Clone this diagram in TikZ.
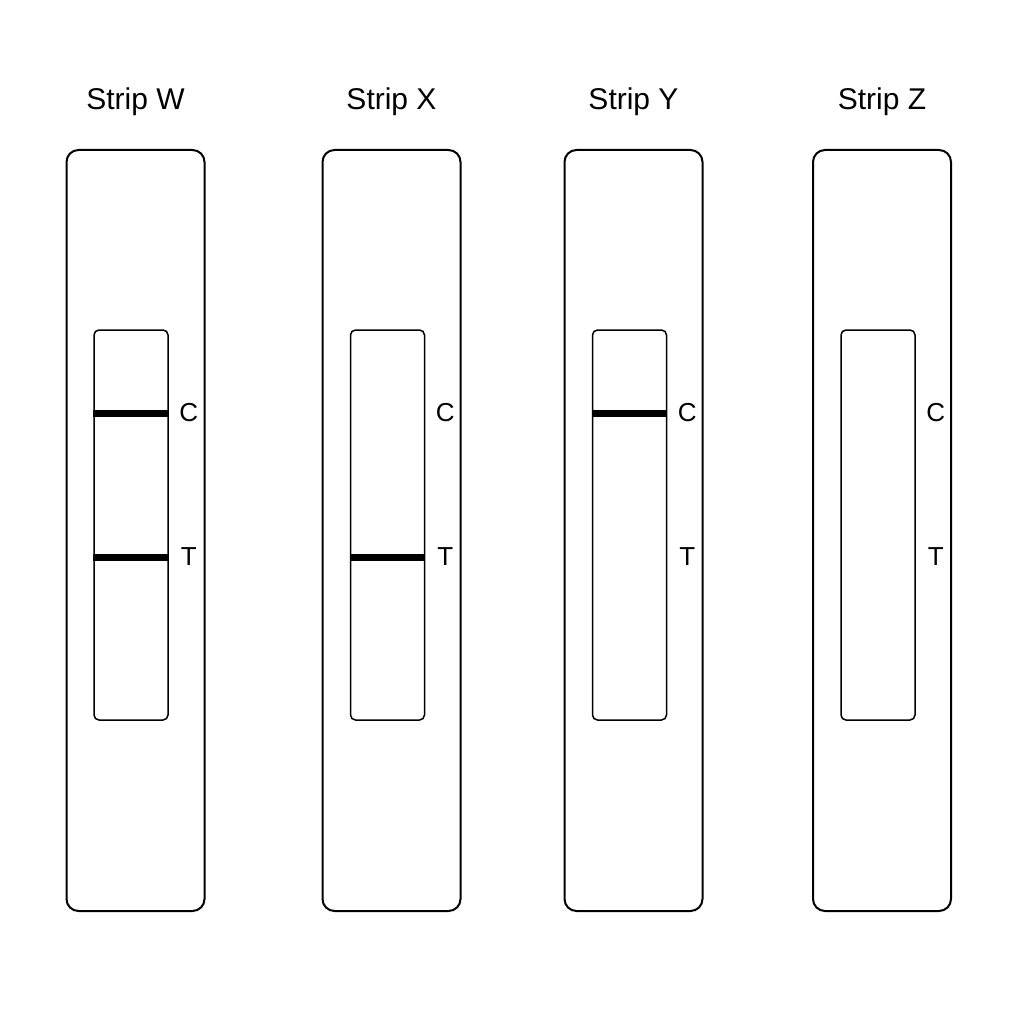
\documentclass[tikz,border=0pt]{standalone}
\usepackage{fontspec}
\setmainfont{Liberation Sans}
\begin{document}
\begin{tikzpicture}[x=1pt,y=-1pt,
  outer/.style={draw=black,line width=2pt,rounded corners=12pt,minimum width=138pt,minimum height=761pt,inner sep=0pt},
  win/.style={draw=black,line width=1.5pt,rounded corners=5pt,minimum width=74pt,minimum height=390pt,inner sep=0pt},
  band/.style={line width=7pt,line cap=butt},
  title/.style={font=\fontsize{30}{31}\selectfont,anchor=center},
  lab/.style={font=\fontsize{26}{28}\selectfont,anchor=center}]
\useasboundingbox[fill=white] (0,0) rectangle (1024,1024);
\foreach \n/\cx/\wx/\t/\c/\tt in {W/135.5/131/1/1/Strip W,X/391.5/387.5/1/0/Strip X,Y/633.5/629.5/0/1/Strip Y,Z/882/878/0/0/Strip Z}{
  \node[outer] (o\n) at (\cx,530.5) {};
  \node[win] (w\n) at (\wx,525) {};
  \node[title] (t\n) at (\cx,102) {\tt};
  \coordinate (cl\n) at ([yshift=112pt]w\n.west);
  \coordinate (cr\n) at ([yshift=112pt]w\n.east);
  \coordinate (tl\n) at ([yshift=-32pt]w\n.west);
  \coordinate (tr\n) at ([yshift=-32pt]w\n.east);
  \node[lab] (c\n) at ([xshift=20pt]cr\n) {C};
  \node[lab] (tt\n) at ([xshift=20pt]tr\n) {T};
  \ifnum\c=1 \draw[band] (cl\n) -- (cr\n); \fi
  \ifnum\t=1 \draw[band] (tl\n) -- (tr\n); \fi
}
\end{tikzpicture}
\end{document}
